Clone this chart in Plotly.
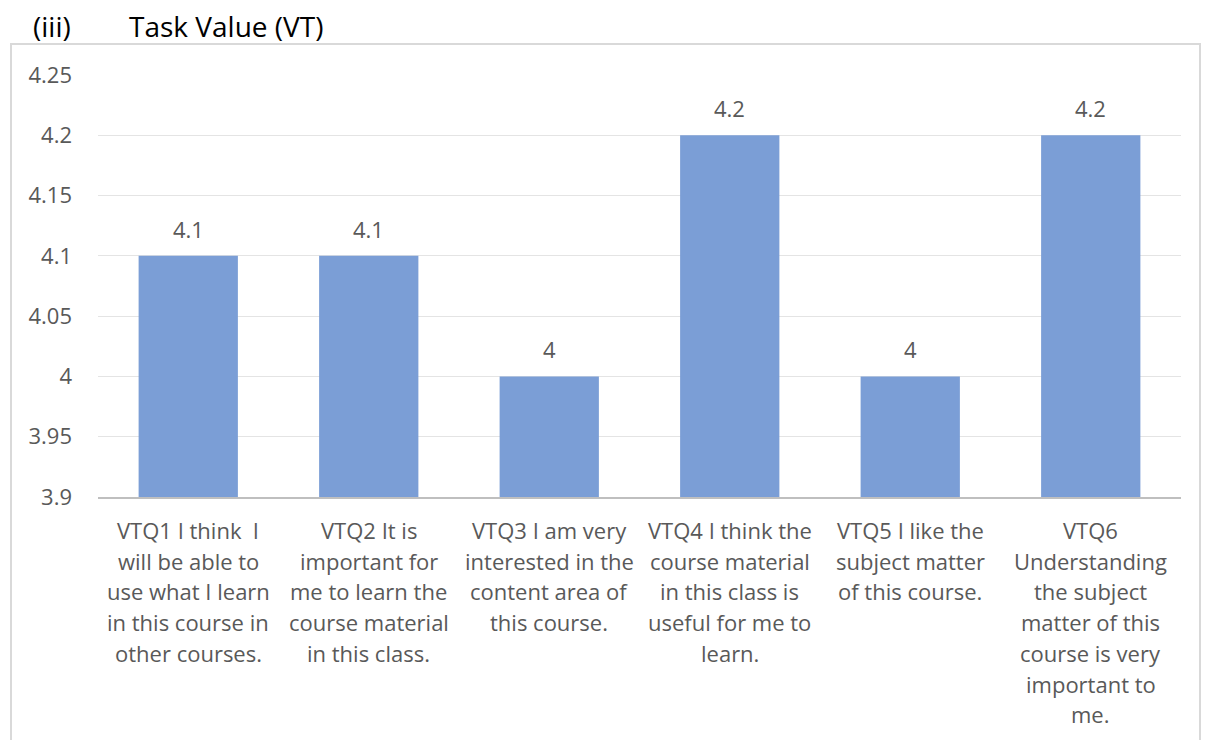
import plotly.graph_objects as go

# Survey items and their mean scores
items = ["VTQ1", "VTQ2", "VTQ3", "VTQ4", "VTQ5", "VTQ6"]
scores = [4.1, 4.1, 4.0, 4.2, 4.0, 4.2]
item_text = [
    ["VTQ1 I think  I", "will be able to", "use what I learn", "in this course in", "other courses."],
    ["VTQ2 It is", "important for", "me to learn the", "course material", "in this class."],
    ["VTQ3 I am very", "interested in the", "content area of", "this course."],
    ["VTQ4 I think the", "course material", "in this class is", "useful for me to", "learn."],
    ["VTQ5 I like the", "subject matter", "of this course."],
    ["VTQ6", "Understanding", "the subject", "matter of this", "course is very", "important to", "me."],
]
y_ticks = [3.9, 3.95, 4.0, 4.05, 4.1, 4.15, 4.2, 4.25]
y_tick_text = ["3.9", "3.95", "4", "4.05", "4.1", "4.15", "4.2", "4.25"]

FONT = "Open Sans, sans-serif"
GREY = "#595959"
SIZE = 22

W, H = 1209, 740
L, R, T, B = 98, 28, 75, 243
plot_w = W - L - R
plot_h = H - T - B

fig = go.Figure(
    go.Bar(
        x=items,
        y=scores,
        marker=dict(color="#7b9ed6", line=dict(width=0)),
        hoverinfo="x+y",
    )
)

annotations = []
# Value labels above each bar
for it, v in zip(items, scores):
    annotations.append(dict(
        x=it, y=v, xref="x", yref="y", text=f"{v:g}", showarrow=False,
        yshift=27, font=dict(family=FONT, size=SIZE, color=GREY),
    ))

# Wrapped category labels under the axis
line_gap = 30.7
for it, lines in zip(items, item_text):
    for i, ln in enumerate(lines):
        annotations.append(dict(
            x=it, y=0, xref="x", yref="paper", text=ln, showarrow=False,
            xanchor="center", yanchor="middle",
            yshift=-(33 + i * line_gap),
            font=dict(family=FONT, size=SIZE, color=GREY),
        ))

# Heading
def px_x(p):
    return (p - L) / plot_w

def px_y(p):
    return (H - B - p) / plot_h

annotations.append(dict(
    x=px_x(31), y=px_y(26), xref="paper", yref="paper", text="(iii)",
    showarrow=False, xanchor="left", yanchor="middle",
    font=dict(family=FONT, size=28, color="black"),
))
annotations.append(dict(
    x=px_x(127), y=px_y(26), xref="paper", yref="paper", text="Task Value (VT)",
    showarrow=False, xanchor="left", yanchor="middle",
    font=dict(family=FONT, size=28, color="black"),
))

fig.update_layout(
    width=W, height=H,
    margin=dict(l=L, r=R, t=T, b=B),
    paper_bgcolor="white", plot_bgcolor="white",
    bargap=0.45,
    showlegend=False,
    annotations=annotations,
    shapes=[dict(
        type="rect", xref="paper", yref="paper",
        x0=px_x(11), x1=px_x(1200), y0=px_y(760), y1=px_y(44),
        line=dict(color="#d9d9d9", width=2), fillcolor="rgba(0,0,0,0)", layer="below",
    )],
)

fig.update_xaxes(
    showticklabels=False, showgrid=False, ticks="",
    showline=True, linecolor="#bfbfbf", linewidth=2,
)
fig.update_yaxes(
    range=[3.9, 4.25], tickvals=y_ticks, ticktext=y_tick_text,
    showgrid=True, gridcolor="#e4e4e4", gridwidth=1,
    showline=False, zeroline=False, ticks="",
    ticklabelstandoff=25,
    tickfont=dict(family=FONT, size=SIZE, color=GREY),
)

fig.write_html("out.html")
